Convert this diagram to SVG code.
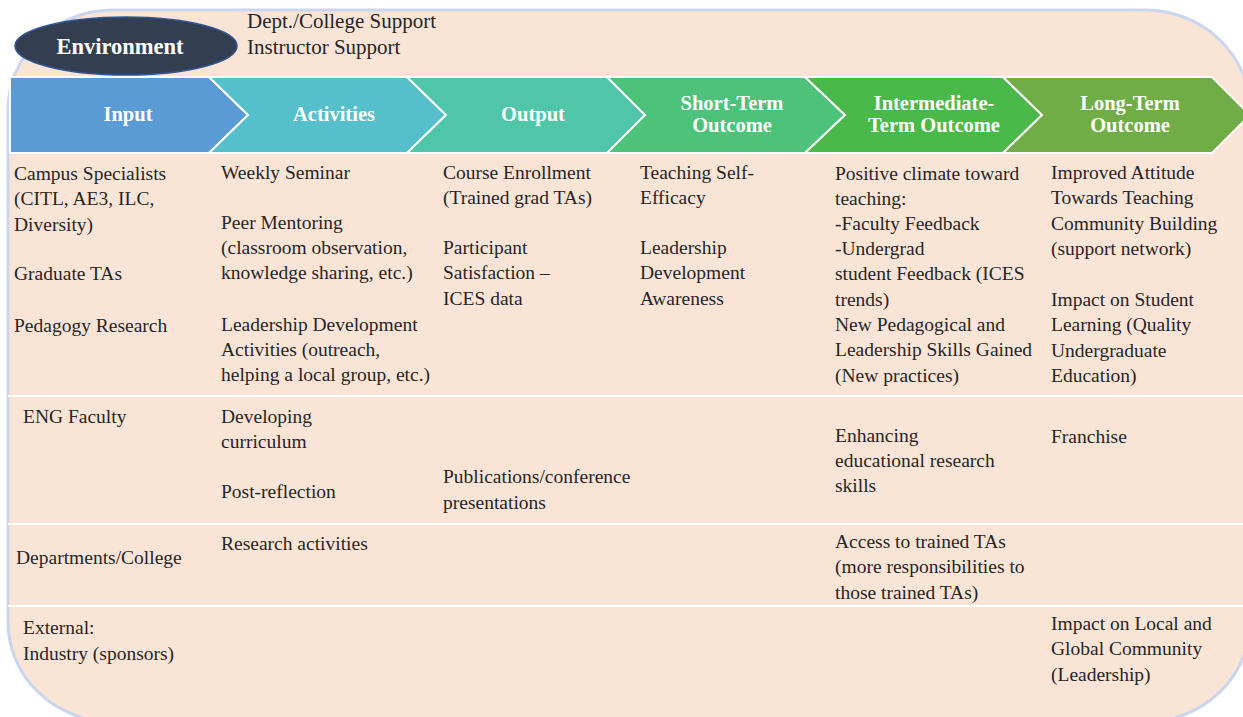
<svg xmlns="http://www.w3.org/2000/svg" width="1243" height="717" viewBox="0 0 1243 717">
<style>
.t{font-family:"Liberation Serif","DejaVu Serif",serif;font-size:19.5px;fill:#262626}
.top{font-size:21px}
.h{font-family:"Liberation Serif","DejaVu Serif",serif;font-size:20.5px;font-weight:bold;fill:#ffffff;text-anchor:middle}
.chev{stroke:#ffffff;stroke-width:2}
.sep{stroke:#ffffff;stroke-width:2}
</style>
<rect width="1243" height="717" fill="#ffffff"/>
<rect id="bg" x="8" y="10" width="1242" height="712" rx="105" ry="100" fill="#FAE4D6" stroke="#C9D6EE" stroke-width="3"/>
<g id="environment">
<ellipse cx="126" cy="46" rx="111" ry="29" fill="#333F50" stroke="#2F5597" stroke-width="1.5"/>
<text x="120" y="54" class="h" style="font-size:22.5px">Environment</text>
</g>
<g id="env-text">
<text x="247" y="28" class="t top">Dept./College Support</text>
<text x="247" y="54" class="t top">Instructor Support</text>
</g>
<g id="chevrons">
<g id="input"><path class="chev" fill="#5B9BD5" d="M10,77 L209,77 L248,115 L209,153 L10,153 Z"/><text x="128" y="121" class="h">Input</text></g>
<g id="activities"><path class="chev" fill="#55C0CC" d="M209,77 L407,77 L446,115 L407,153 L209,153 L248,115 Z"/><text x="334" y="121" class="h">Activities</text></g>
<g id="output"><path class="chev" fill="#50C6A8" d="M407,77 L607,77 L645,115 L607,153 L407,153 L446,115 Z"/><text x="533" y="121" class="h">Output</text></g>
<g id="short"><path class="chev" fill="#4CC27A" d="M607,77 L805,77 L845,115 L805,153 L607,153 L645,115 Z"/><text x="732" y="110" class="h">Short-Term</text><text x="732" y="132" class="h">Outcome</text></g>
<g id="intermediate"><path class="chev" fill="#4BB949" d="M805,77 L1003,77 L1042,115 L1003,153 L805,153 L845,115 Z"/><text x="934" y="110" class="h">Intermediate-</text><text x="934" y="132" class="h">Term Outcome</text></g>
<g id="long"><path class="chev" fill="#70AD47" d="M1003,77 L1212,77 L1250,115 L1212,153 L1003,153 L1042,115 Z"/><text x="1130" y="110" class="h">Long-Term</text><text x="1130" y="132" class="h">Outcome</text></g>
</g>
<g id="separators">
<line class="sep" x1="8" y1="396" x2="1243" y2="396"/>
<line class="sep" x1="8" y1="524" x2="1243" y2="524"/>
<line class="sep" x1="8" y1="606" x2="1243" y2="606"/>
</g>
<g id="row1">
<text class="t" x="14" y="180">Campus Specialists</text>
<text class="t" x="14" y="205">(CITL, AE3, ILC,</text>
<text class="t" x="14" y="231">Diversity)</text>
<text class="t" x="14" y="280">Graduate TAs</text>
<text class="t" x="14" y="332">Pedagogy Research</text>
<text class="t" x="221" y="179">Weekly Seminar</text>
<text class="t" x="221" y="229">Peer Mentoring</text>
<text class="t" x="221" y="254">(classroom observation,</text>
<text class="t" x="221" y="279">knowledge sharing, etc.)</text>
<text class="t" x="221" y="331">Leadership Development</text>
<text class="t" x="221" y="356">Activities (outreach,</text>
<text class="t" x="221" y="381">helping a local group, etc.)</text>
<text class="t" x="443" y="179">Course Enrollment</text>
<text class="t" x="443" y="204">(Trained grad TAs)</text>
<text class="t" x="443" y="254">Participant</text>
<text class="t" x="443" y="279">Satisfaction –</text>
<text class="t" x="443" y="305">ICES data</text>
<text class="t" x="640" y="179">Teaching Self-</text>
<text class="t" x="640" y="204">Efficacy</text>
<text class="t" x="640" y="254">Leadership</text>
<text class="t" x="640" y="279">Development</text>
<text class="t" x="640" y="305">Awareness</text>
<text class="t" x="835" y="180">Positive climate toward</text>
<text class="t" x="835" y="205">teaching:</text>
<text class="t" x="835" y="230">-Faculty Feedback</text>
<text class="t" x="835" y="255">-Undergrad</text>
<text class="t" x="835" y="280">student Feedback (ICES</text>
<text class="t" x="835" y="306">trends)</text>
<text class="t" x="835" y="331">New Pedagogical and</text>
<text class="t" x="835" y="356">Leadership Skills Gained</text>
<text class="t" x="835" y="382">(New practices)</text>
<text class="t" x="1051" y="179">Improved Attitude</text>
<text class="t" x="1051" y="204">Towards Teaching</text>
<text class="t" x="1051" y="230">Community Building</text>
<text class="t" x="1051" y="255">(support network)</text>
<text class="t" x="1051" y="306">Impact on Student</text>
<text class="t" x="1051" y="331">Learning (Quality</text>
<text class="t" x="1051" y="357">Undergraduate</text>
<text class="t" x="1051" y="382">Education)</text>
</g>
<g id="row2">
<text class="t" x="23" y="423">ENG Faculty</text>
<text class="t" x="221" y="423">Developing</text>
<text class="t" x="221" y="448">curriculum</text>
<text class="t" x="221" y="498">Post-reflection</text>
<text class="t" x="443" y="483">Publications/conference</text>
<text class="t" x="443" y="509">presentations</text>
<text class="t" x="835" y="442">Enhancing</text>
<text class="t" x="835" y="467">educational research</text>
<text class="t" x="835" y="492">skills</text>
<text class="t" x="1051" y="443">Franchise</text>
</g>
<g id="row3">
<text class="t" x="16" y="564">Departments/College</text>
<text class="t" x="221" y="550">Research activities</text>
<text class="t" x="835" y="548">Access to trained TAs</text>
<text class="t" x="835" y="573">(more responsibilities to</text>
<text class="t" x="835" y="599">those trained TAs)</text>
</g>
<g id="row4">
<text class="t" x="23" y="634">External:</text>
<text class="t" x="23" y="660">Industry (sponsors)</text>
<text class="t" x="1051" y="630">Impact on Local and</text>
<text class="t" x="1051" y="655">Global Community</text>
<text class="t" x="1051" y="681">(Leadership)</text>
</g>
</svg>
